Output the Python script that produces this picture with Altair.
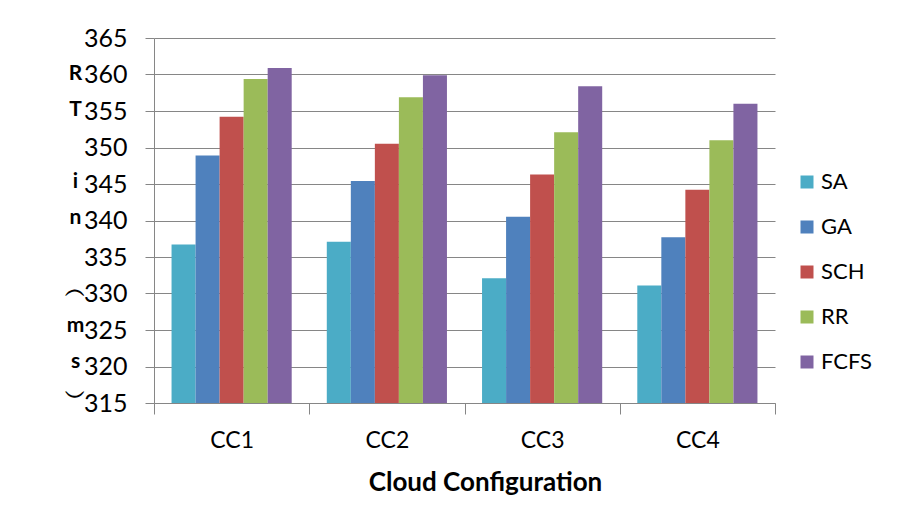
import altair as alt
import pandas as pd

configs = ["CC1", "CC2", "CC3", "CC4"]
algorithms = ["SA", "GA", "SCH", "RR", "FCFS"]
sa = [336.7, 337.1, 332.1, 331.1]
ga = [348.9, 345.4, 340.5, 337.7]
sch = [354.2, 350.5, 346.3, 344.2]
rr = [359.4, 356.9, 352.1, 351.0]
fcfs = [360.9, 359.9, 358.4, 356.0]
colors = ["#4BACC6", "#4F81BD", "#C0504D", "#9BBB59", "#8064A2"]
y_ticks = [315, 320, 325, 330, 335, 340, 345, 350, 355, 360, 365]
y_title_lines = ["R", "T", "\u2800", "i", "n", "\u2800", "\ufe35", "m", "s", "\ufe36"]
x_title = "Cloud Configuration"

series = {"SA": sa, "GA": ga, "SCH": sch, "RR": rr, "FCFS": fcfs}
rows = []
for alg in algorithms:
    for cfg, v in zip(configs, series[alg]):
        rows.append({"Config": cfg, "Algorithm": alg, "RT": v})
df = pd.DataFrame(rows)

FONT = "Lato"
GRAY = "#868686"

chart = alt.Chart(df).mark_bar(strokeWidth=0, clip=True).encode(
    x=alt.X(
        "Config:N",
        sort=configs,
        scale=alt.Scale(paddingInner=0, paddingOuter=0),
        axis=alt.Axis(
            title=x_title,
            labelAngle=0,
            tickBand="extent",
            grid=False,
            domainColor=GRAY,
            tickColor=GRAY,
            tickSize=11,
            labelFont=FONT,
            labelFontSize=23,
            labelColor="#000000",
            labelPadding=15,
            titleFont=FONT,
            titleFontSize=26,
            titleFontWeight="bold",
            titleColor="#000000",
            titlePadding=17,
            titleX=331,
            titleAlign="center",
        ),
    ),
    xOffset=alt.XOffset(
        "Algorithm:N",
        sort=algorithms,
        scale=alt.Scale(paddingInner=0, paddingOuter=0.73),
    ),
    y=alt.Y(
        "RT:Q",
        scale=alt.Scale(domain=[315, 365], zero=False, nice=False),
        axis=alt.Axis(
            values=y_ticks,
            title=y_title_lines,
            titleAngle=0,
            titleAlign="center",
            titleBaseline="top",
            titleX=-79,
            titleY=24,
            titleLineHeight=36,
            titleFont=FONT,
            titleFontSize=21,
            titleFontWeight="bold",
            titleColor="#000000",
            grid=True,
            gridColor=GRAY,
            gridWidth=1,
            domainColor=GRAY,
            tickColor=GRAY,
            tickSize=9,
            labelFont=FONT,
            labelFontSize=25,
            labelColor="#000000",
            labelPadding=18,
        ),
    ),
    color=alt.Color(
        "Algorithm:N",
        sort=algorithms,
        scale=alt.Scale(domain=algorithms, range=colors),
        legend=alt.Legend(
            title=None,
            orient="none",
            legendX=642,
            legendY=133,
            symbolType="square",
            symbolSize=169,
            symbolStrokeWidth=0,
            labelFont=FONT,
            labelFontSize=22,
            labelColor="#000000",
            rowPadding=23,
            labelOffset=3,
        ),
    ),
).properties(
    width=621,
    height=365,
    autosize=alt.AutoSizeParams(type="none"),
    padding={"left": 154, "top": 38, "right": 131, "bottom": 111},
    background="#ffffff",
).configure_view(stroke=None)

chart.save("out.html", embed_options={"renderer": "svg", "actions": False})
